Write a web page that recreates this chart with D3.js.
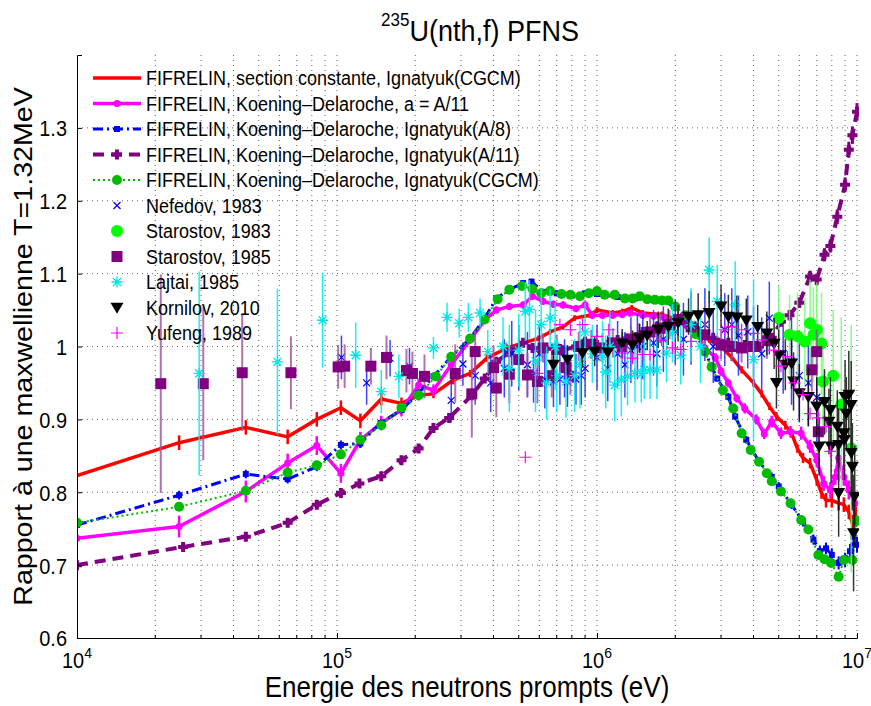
<!DOCTYPE html>
<html><head><meta charset="utf-8">
<script src="https://cdn.jsdelivr.net/npm/d3@7"></script>
<style>body{margin:0;background:#fff} text{font-family:"Liberation Sans",Arial,sans-serif;fill:#000}</style>
</head><body><svg id="c" width="871" height="706"></svg>
<script>
// ---------- DATA : [energy eV, ratio, error] ----------
const xTickValues = [1e4, 1e5, 1e6, 1e7];
const xTickExponents = ["4", "5", "6", "7"];
const yTickValues = [0.6, 0.7, 0.8, 0.9, 1.0, 1.1, 1.2, 1.3];
const yTickLabels = ["0.6", "0.7", "0.8", "0.9", "1", "1.1", "1.2", "1.3"];
const legendLabels = [
  "FIFRELIN, section constante, Ignatyuk(CGCM)",
  "FIFRELIN, Koening\u2013Delaroche, a = A/11",
  "FIFRELIN, Koening\u2013Delaroche, Ignatyuk(A/8)",
  "FIFRELIN, Koening\u2013Delaroche, Ignatyuk(A/11)",
  "FIFRELIN, Koening\u2013Delaroche, Ignatyuk(CGCM)",
  "Nefedov, 1983", "Starostov, 1983", "Starostov, 1985", "Lajtai, 1985", "Kornilov, 2010", "Yufeng, 1989"];

const redModel = [[1e4,0.823,0],[2.47e4,0.868,0.01],[4.46e4,0.889,0.01],[6.46e4,0.876,0.01],[8.36e4,0.900,0.01],[1.035e5,0.916,0.01],[1.23e5,0.898,0.01],[1.48e5,0.928,0.009],[1.77e5,0.922,0.008],[2.06e5,0.933,0.007],[2.35e5,0.935,0.006],[2.8e5,0.954,0.006],[3.25e5,0.963,0.005],[3.77e5,0.984,0.005],[4.5e5,0.998,0.005],[5.2e5,1.005,0.004],[5.95e5,1.011,0.004],[6.6e5,1.020,0.004],[7.4e5,1.027,0.004],[8.2e5,1.039,0.004],[9.4e5,1.043,0.004],[1.0e6,1.050,0.004],[1.15e6,1.046,0.004],[1.25e6,1.048,0.004],[1.36e6,1.053,0.004],[1.5e6,1.046,0.004],[1.77e6,1.044,0.004],[2.07e6,1.036,0.004],[2.3e6,1.027,0.004],[2.5e6,1.018,0.004],[2.7e6,1.009,0.004],[3.0e6,1.0,0.004],[3.3e6,0.985,0.005],[3.6e6,0.968,0.005],[4.0e6,0.950,0.005],[4.3e6,0.935,0.005],[4.6e6,0.918,0.005],[4.9e6,0.904,0.006],[5.3e6,0.892,0.006],[5.6e6,0.881,0.006],[5.9e6,0.860,0.006],[6.2e6,0.847,0.007],[6.6e6,0.840,0.007],[7.0e6,0.817,0.008],[7.3e6,0.799,0.008],[7.6e6,0.789,0.01],[8.0e6,0.789,0.01],[8.5e6,0.785,0.01],[8.9e6,0.783,0.01],[9.3e6,0.773,0.01],[9.6e6,0.757,0.012],[9.9e6,0.769,0.012]];

const magentaModel = [[1e4,0.737,0],[2.47e4,0.753,0.015],[4.46e4,0.801,0.015],[6.46e4,0.840,0.013],[8.36e4,0.864,0.013],[1.035e5,0.826,0.013],[1.23e5,0.872,0.011],[1.48e5,0.895,0.01],[1.77e5,0.913,0.009],[2.06e5,0.947,0.009],[2.35e5,0.940,0.008],[2.75e5,0.975,0.006],[3.25e5,1.009,0.005],[3.7e5,1.036,0.005],[4.1e5,1.050,0.005],[4.6e5,1.055,0.005],[5.2e5,1.057,0.005],[5.65e5,1.069,0.005],[6.2e5,1.062,0.005],[6.8e5,1.058,0.005],[7.4e5,1.057,0.005],[8.3e5,1.052,0.005],[9.0e5,1.057,0.005],[9.6e5,1.043,0.005],[1.05e6,1.043,0.005],[1.15e6,1.043,0.005],[1.25e6,1.044,0.005],[1.34e6,1.046,0.005],[1.5e6,1.043,0.005],[1.65e6,1.042,0.005],[1.8e6,1.040,0.005],[2.02e6,1.034,0.005],[2.2e6,1.029,0.005],[2.4e6,1.022,0.005],[2.6e6,0.998,0.005],[2.85e6,0.985,0.006],[3.0e6,0.966,0.006],[3.2e6,0.950,0.006],[3.45e6,0.929,0.006],[3.7e6,0.915,0.007],[4.1e6,0.900,0.007],[4.4e6,0.880,0.007],[4.7e6,0.897,0.008],[5.1e6,0.881,0.008],[5.55e6,0.883,0.008],[6.1e6,0.881,0.009],[6.6e6,0.863,0.009],[7.0e6,0.844,0.01],[7.45e6,0.812,0.01],[7.9e6,0.803,0.011],[8.25e6,0.821,0.011],[8.5e6,0.847,0.012],[8.9e6,0.821,0.012],[9.3e6,0.803,0.013],[9.8e6,0.785,0.013]];

const blueModel = [[1e4,0.755,0],[2.47e4,0.796,0.006],[4.46e4,0.825,0.006],[6.46e4,0.818,0.006],[8.36e4,0.835,0.006],[1.035e5,0.865,0.006],[1.23e5,0.867,0.006],[1.47e5,0.895,0.005],[1.77e5,0.913,0.005],[2.06e5,0.936,0.005],[2.35e5,0.959,0.005],[2.75e5,0.986,0.005],[3.25e5,1.011,0.004],[3.7e5,1.039,0.004],[4.1e5,1.066,0.004],[4.6e5,1.078,0.004],[5.2e5,1.087,0.004],[5.6e5,1.089,0.004],[6.2e5,1.075,0.004],[7.0e5,1.073,0.004],[8.0e5,1.070,0.004],[9.0e5,1.073,0.004],[1.0e6,1.072,0.004],[1.2e6,1.068,0.004],[1.4e6,1.066,0.004],[1.6e6,1.064,0.004],[1.8e6,1.062,0.004],[2.0e6,1.055,0.004],[2.2e6,1.040,0.004],[2.4e6,1.018,0.004],[2.6e6,0.993,0.004],[2.9e6,0.956,0.004],[3.2e6,0.931,0.005],[3.4e6,0.904,0.005],[3.75e6,0.872,0.005],[4.2e6,0.842,0.005],[4.7e6,0.821,0.006],[5.0e6,0.808,0.006],[5.6e6,0.783,0.006],[6.2e6,0.760,0.007],[6.8e6,0.735,0.007],[7.2e6,0.719,0.008],[7.6e6,0.723,0.008],[8.0e6,0.714,0.009],[8.5e6,0.703,0.009],[9.0e6,0.707,0.01],[9.4e6,0.719,0.01],[9.7e6,0.739,0.011],[1e7,0.728,0.011]];

const purpleModel = [[1e4,0.700,0],[2.56e4,0.725,0.006],[4.46e4,0.739,0.006],[6.46e4,0.758,0.006],[8.36e4,0.783,0.006],[1.035e5,0.799,0.006],[1.22e5,0.812,0.006],[1.48e5,0.822,0.006],[1.77e5,0.844,0.006],[2.06e5,0.860,0.006],[2.35e5,0.888,0.006],[2.7e5,0.902,0.006],[3.3e5,0.933,0.005],[3.7e5,0.956,0.005],[4.1e5,0.979,0.005],[4.6e5,0.992,0.005],[5.2e5,1.005,0.005],[5.65e5,0.998,0.005],[6.2e5,0.998,0.005],[6.8e5,0.997,0.005],[7.4e5,0.995,0.005],[8.3e5,1.000,0.005],[9.0e5,1.007,0.005],[1.0e6,1.002,0.005],[1.1e6,1.002,0.005],[1.2e6,1.009,0.005],[1.3e6,1.011,0.005],[1.5e6,1.020,0.005],[1.7e6,1.027,0.005],[1.9e6,1.032,0.005],[2.1e6,1.036,0.005],[2.4e6,1.025,0.005],[2.8e6,1.012,0.005],[3.2e6,1.005,0.005],[3.7e6,1.002,0.005],[4.2e6,1.000,0.006],[4.7e6,1.012,0.006],[5.1e6,1.034,0.006],[5.5e6,1.043,0.007],[6.0e6,1.060,0.007],[6.6e6,1.096,0.008],[7.0e6,1.092,0.008],[7.5e6,1.126,0.009],[7.9e6,1.138,0.009],[8.4e6,1.178,0.01],[9.0e6,1.222,0.01],[9.3e6,1.270,0.011],[9.6e6,1.290,0.012],[1e7,1.322,0.012]];

const greenModel = [[1e4,0.758],[2.47e4,0.780],[4.46e4,0.802],[6.46e4,0.827],[8.36e4,0.837],[1.035e5,0.852],[1.23e5,0.872],[1.48e5,0.892],[1.77e5,0.916],[2.06e5,0.933],[2.4e5,0.959],[2.75e5,0.986],[3.25e5,1.011],[3.7e5,1.037],[4.15e5,1.065],[4.6e5,1.078],[5.15e5,1.083],[5.65e5,1.079],[6.1e5,1.073],[6.6e5,1.076],[7.3e5,1.072],[7.9e5,1.071],[8.6e5,1.069],[9.3e5,1.073],[1.0e6,1.076],[1.07e6,1.071],[1.17e6,1.071],[1.28e6,1.066],[1.37e6,1.066],[1.46e6,1.069],[1.56e6,1.065],[1.67e6,1.064],[1.78e6,1.063],[1.88e6,1.063],[2.0e6,1.055],[2.19e6,1.043],[2.4e6,1.017],[2.6e6,0.993],[2.76e6,0.972],[3.05e6,0.940],[3.34e6,0.915],[3.6e6,0.881],[3.9e6,0.858],[4.2e6,0.842],[4.5e6,0.826],[4.7e6,0.815],[5.1e6,0.801],[5.55e6,0.785],[6.1e6,0.762],[6.5e6,0.749],[7.1e6,0.714],[7.5e6,0.708],[7.95e6,0.703],[8.5e6,0.684],[8.9e6,0.707],[9.6e6,0.707],[1e7,0.761]];

const nefedov = [[1.04e5,0.985,0.03],[1.3e5,0.950,0.03],[1.6e5,0.984,0.025],[1.9e5,0.973,0.025],[2.75e5,0.926,0.03],[3.05e5,0.976,0.03],[3.4e5,0.960,0.04],[3.9e5,0.950,0.04],[4.4e5,0.970,0.04],[4.7e5,0.990,0.045],[5.0e5,0.985,0.045],[5.4e5,0.975,0.045],[5.7e5,0.963,0.04],[6.0e5,0.990,0.04],[6.3e5,0.955,0.04],[6.8e5,0.952,0.035],[7.2e5,0.955,0.035],[7.5e5,0.970,0.04],[7.7e5,0.952,0.035],[8.3e5,0.955,0.035],[8.7e5,0.960,0.04],[9.0e5,0.970,0.04],[1.0e6,0.985,0.045],[1.1e6,0.970,0.045],[1.2e6,0.990,0.045],[1.28e6,0.975,0.045],[1.35e6,0.995,0.045],[1.43e6,1.000,0.045],[1.5e6,1.000,0.045],[1.65e6,1.005,0.045],[1.7e6,0.990,0.045],[1.8e6,1.010,0.045],[2.0e6,1.020,0.045],[2.15e6,1.010,0.05],[2.3e6,1.025,0.05],[2.6e6,1.030,0.05],[2.8e6,1.000,0.05],[3.1e6,1.023,0.05],[3.3e6,1.030,0.05],[3.5e6,1.015,0.055],[3.8e6,1.020,0.05],[4.0e6,1.000,0.055],[4.3e6,0.990,0.05],[4.6e6,1.039,0.05],[5.2e6,0.990,0.055],[5.6e6,0.980,0.06],[6.0e6,0.960,0.06],[6.5e6,0.950,0.06],[7.0e6,0.930,0.06]];

const starostov83 = [[5.0e6,1.039,0.045],[5.5e6,1.016,0.055],[5.9e6,1.014,0.06],[6.3e6,1.007,0.06],[6.6e6,1.032,0.06],[6.8e6,1.016,0.065],[7.0e6,1.023,0.065],[7.3e6,1.004,0.07],[7.4e6,0.952,0.075],[8.1e6,0.960,0.09],[8.7e6,0.920,0.12],[9.5e6,0.860,0.17]];

const starostov85 = [[2.1e4,0.949,0.15],[3.06e4,0.949,0.105],[4.32e4,0.964,0.08],[6.65e4,0.964,0.05],[1.01e5,0.972,0.03],[1.07e5,0.973,0.03],[1.35e5,0.973,0.025],[1.55e5,0.985,0.03],[1.85e5,0.967,0.03],[1.95e5,0.963,0.03],[2.17e5,0.959,0.03],[2.85e5,0.963,0.04],[3.3e5,0.935,0.06],[3.4e5,0.993,0.03],[4.0e5,0.971,0.03],[4.1e5,0.943,0.04],[4.6e5,0.962,0.04],[5.0e5,0.982,0.03],[5.4e5,0.961,0.03],[5.9e5,0.952,0.03],[6.2e5,0.998,0.02],[6.7e5,0.960,0.03],[7.0e5,0.996,0.02],[7.6e5,0.971,0.025],[7.9e5,0.959,0.025],[8.5e5,1.000,0.02],[9.5e5,1.003,0.02],[1.05e6,0.998,0.02],[1.15e6,1.005,0.02],[1.25e6,1.000,0.02],[1.35e6,1.010,0.02],[1.45e6,1.012,0.02],[1.6e6,1.020,0.02],[1.75e6,1.025,0.02],[1.9e6,1.030,0.02],[2.05e6,1.037,0.02],[2.3e6,1.027,0.02],[2.6e6,1.016,0.02],[3.0e6,1.002,0.02],[3.3e6,1.000,0.02],[3.6e6,0.998,0.02],[4.0e6,1.000,0.02],[4.5e6,1.008,0.025],[6.7e6,0.968,0.03],[7.0e6,0.993,0.03],[7.1e6,0.883,0.04]];

const lajtai = [[2.95e4,0.963,0.14],[5.9e4,0.979,0.10],[8.8e4,1.036,0.065],[1.18e5,0.988,0.045],[1.48e5,0.938,0.03],[1.73e5,0.959,0.03],[2.35e5,0.998,0.015],[2.65e5,1.040,0.02],[2.95e5,1.032,0.02],[3.2e5,1.040,0.02],[3.55e5,1.046,0.02],[3.8e5,0.993,0.03],[4.35e5,1.000,0.04],[4.6e5,0.970,0.06],[5.0e5,0.995,0.05],[5.3e5,1.048,0.04],[5.5e5,1.051,0.04],[5.8e5,0.980,0.07],[6.1e5,1.030,0.05],[6.4e5,0.950,0.05],[6.6e5,1.039,0.04],[6.9e5,1.000,0.06],[7.0e5,0.960,0.05],[7.6e5,0.952,0.05],[8.2e5,0.960,0.05],[8.6e5,0.975,0.06],[9.0e5,1.020,0.04],[9.6e5,0.990,0.04],[1.05e6,0.985,0.05],[1.08e6,0.965,0.05],[1.12e6,1.000,0.05],[1.17e6,0.947,0.05],[1.24e6,0.954,0.05],[1.31e6,0.959,0.04],[1.4e6,0.963,0.04],[1.48e6,0.963,0.04],[1.52e6,0.968,0.04],[1.6e6,0.968,0.04],[1.7e6,0.968,0.04],[1.85e6,0.991,0.04],[1.95e6,1.018,0.04],[2.1e6,0.988,0.04],[2.3e6,1.030,0.05],[2.5e6,1.000,0.05],[2.7e6,1.105,0.045],[2.9e6,1.062,0.05],[3.4e6,1.057,0.06],[4.0e6,0.982,0.11]];

const kornilov = [[6.8e5,0.975,0.02],[7.7e5,0.982,0.02],[8.8e5,0.991,0.02],[9.8e5,0.993,0.02],[1.1e6,0.992,0.02],[1.25e6,1.004,0.02],[1.37e6,1.002,0.02],[1.46e6,1.011,0.02],[1.56e6,1.015,0.02],[1.72e6,1.023,0.025],[1.88e6,1.027,0.025],[2.05e6,1.032,0.025],[2.25e6,1.041,0.025],[2.45e6,1.043,0.03],[2.7e6,1.046,0.03],[3.0e6,1.055,0.03],[3.2e6,1.041,0.03],[3.45e6,1.040,0.03],[3.75e6,1.036,0.03],[4.15e6,1.027,0.03],[4.5e6,1.018,0.03],[4.8e6,1.004,0.035],[5.0e6,0.988,0.035],[4.9e6,0.950,0.035],[5.3e6,0.975,0.035],[5.6e6,0.977,0.035],[5.7e6,0.952,0.04],[6.0e6,0.936,0.04],[6.5e6,0.931,0.04],[7.0e6,0.918,0.04],[7.15e6,0.863,0.04],[7.5e6,0.924,0.045],[7.9e6,0.913,0.045],[7.8e6,0.897,0.045],[7.95e6,0.863,0.05],[8.4e6,0.890,0.05],[8.5e6,0.865,0.05],[8.9e6,0.881,0.05],[9.0e6,0.931,0.05],[9.1e6,0.908,0.05],[8.95e6,0.872,0.055],[9.5e6,0.854,0.06],[9.6e6,0.835,0.06],[9.3e6,0.934,0.06],[9.5e6,0.920,0.06],[8.5e6,0.799,0.06],[9.8e6,0.794,0.07],[9.7e6,0.744,0.08]];

const yufeng = [[5.3e5,0.848],[5.9e5,0.963],[7.2e5,1.030],[7.9e5,1.023],[8.8e5,1.030],[1.0e6,1.014],[1.11e6,1.023],[1.25e6,0.991],[1.37e6,0.984],[1.5e6,0.989],[1.6e6,0.989],[1.77e6,1.009],[1.95e6,0.998],[2.1e6,0.996],[2.3e6,1.007],[3.1e6,1.023],[3.3e6,1.027],[3.6e6,1.023],[4.0e6,1.018],[4.3e6,1.009],[4.8e6,0.995],[5.1e6,0.973],[5.4e6,0.986],[5.75e6,0.950],[6.2e6,0.934],[6.6e6,0.908],[7.1e6,0.902],[7.6e6,0.890],[7.9e6,0.856]];

// ---------- STYLES ----------
const series = [
  {data: redModel, color:"#ff0000", lw:3.5, dash:null, bar:{c:"#ff0000",w:2.5}, mk:null},
  {data: magentaModel, color:"#ff00ff", lw:3.5, dash:null, bar:{c:"#ff00ff",w:2.5}, mk:{t:"o",s:3.5,fill:"#ff00ff"}},
  {data: blueModel, color:"#0000ff", lw:3, dash:"10,4,2,4", bar:{c:"#0000ff",w:2}, mk:{t:"s",s:3,fill:"#0000ff"}},
  {data: purpleModel, color:"#800080", lw:4, dash:"11,7", bar:{c:"#800080",w:3}, mk:{t:"+",s:5,stroke:"#800080",sw:4}},
  {data: greenModel, color:"#00bb00", lw:2, dash:"2,3", bar:null, mk:{t:"o",s:5,fill:"#00bb00"}},
  {data: nefedov, color:"#0000ff", bar:{c:"#2020ff",w:1.5,o:0.85}, mk:{t:"x",s:3.5,stroke:"#0000ff",sw:1.2}},
  {data: starostov83, color:"#00ff00", bar:{c:"#66ff66",w:1.5,o:0.8}, mk:{t:"o",s:6,fill:"#00ff00"}},
  {data: starostov85, color:"#800080", bar:{c:"#a050a0",w:2,o:0.8}, mk:{t:"s",s:5.5,fill:"#800080"}},
  {data: lajtai, color:"#00ffff", bar:{c:"#00f0f0",w:1.5,o:0.9}, mk:{t:"*",s:5.5,stroke:"#00e5e5",sw:1.3}},
  {data: kornilov, color:"#000", bar:{c:"#111",w:1.5,o:0.85}, mk:{t:"v",s:6.5,fill:"#000"}},
  {data: yufeng, color:"#ff00ff", bar:null, mk:{t:"+",s:6,stroke:"#ff00ff",sw:1.2}}
];

// ---------- CHART ----------
const svg = d3.select("#c");
const L=77, R=857, T=55, B=638, SY=1.1;
const x = d3.scaleLog().domain([1e4,1e7]).range([L,R]);
const y = d3.scaleLinear().domain([0.6,1.4]).range([B,T]);

svg.append("defs").append("clipPath").attr("id","clip")
  .append("rect").attr("x",L).attr("y",T-2).attr("width",R-L+2).attr("height",B-T+2);

// grid
const grid = svg.append("g").attr("stroke","#000").attr("stroke-width",0.8).attr("stroke-dasharray","1,4").attr("opacity",0.75);
x.ticks().filter(v=>v>1e4).forEach(v=>{
  grid.append("line").attr("x1",x(v)).attr("x2",x(v)).attr("y1",T).attr("y2",B);
});
yTickValues.filter(v=>v>0.6).forEach(v=>{
  grid.append("line").attr("x1",L).attr("x2",R).attr("y1",y(v)).attr("y2",y(v));
});

function markerPath(t,s){
  if(t==="x") return `M${-s},${-s}L${s},${s}M${-s},${s}L${s},${-s}`;
  if(t==="+") return `M${-s},0H${s}M0,${-s}V${s}`;
  if(t==="*"){const d=s*0.72;return `M${-s},0H${s}M0,${-s}V${s}M${-d},${-d}L${d},${d}M${-d},${d}L${d},${-d}`;}
  if(t==="v") return `M${-s},${-s*0.75}L${s},${-s*0.75}L0,${s*0.95}Z`;
  if(t==="s") return `M${-s},${-s}H${s}V${s}H${-s}Z`;
  return d3.symbol(d3.symbolCircle, Math.PI*s*s)();
}
function drawMarker(g, mk, px, py){
  const p = g.append("path").attr("d", markerPath(mk.t, mk.s)).attr("transform",`translate(${px},${py})`);
  if(mk.fill) p.attr("fill",mk.fill).attr("stroke","none");
  else p.attr("fill","none").attr("stroke",mk.stroke).attr("stroke-width",mk.sw);
}

const plot = svg.append("g").attr("clip-path","url(#clip)");
series.forEach(s=>{
  const g = plot.append("g");
  if(s.bar){
    const bg = g.append("g").attr("stroke",s.bar.c).attr("stroke-width",s.bar.w).attr("opacity",s.bar.o||1);
    s.data.filter(d=>d[2]>0).forEach(d=>{
      bg.append("line").attr("x1",x(d[0])).attr("x2",x(d[0])).attr("y1",y(d[1]-d[2])).attr("y2",y(d[1]+d[2]));
    });
  }
  if(s.lw){
    g.append("path").datum(s.data).attr("fill","none").attr("stroke",s.color).attr("stroke-width",s.lw)
      .attr("stroke-dasharray",s.dash).attr("stroke-linejoin","round")
      .attr("d", d3.line().x(d=>x(d[0])).y(d=>y(d[1])));
  }
  if(s.mk){
    const mg = g.append("g");
    s.data.forEach(d=>drawMarker(mg, s.mk, x(d[0]), y(d[1])));
  }
});

// axes
const ay = svg.append("g").attr("transform",`translate(${L},0)`)
  .call(d3.axisLeft(y).tickValues(yTickValues).tickSize(-5).tickPadding(10).tickFormat((d,i)=>yTickLabels[i]));
ay.selectAll("text").attr("font-size",20).attr("font-family","Liberation Sans, Arial, sans-serif")
  .attr("transform",`scale(1,${SY})`).attr("dy","0.36em");
ay.select(".domain").attr("stroke","#000");

const ax = svg.append("g").attr("transform",`translate(0,${B})`)
  .call(d3.axisBottom(x).tickValues(xTickValues).tickSize(-5).tickFormat(""));
ax.select(".domain").attr("stroke","#000");
// minor x ticks
x.ticks().filter(v=>!xTickValues.includes(v)).forEach(v=>{
  ax.append("line").attr("x1",x(v)).attr("x2",x(v)).attr("y1",0).attr("y2",-3).attr("stroke","#000");
});
xTickValues.forEach((v,i)=>{
  const t = svg.append("text").attr("text-anchor","middle").attr("font-size",20)
    .attr("transform",`translate(${x(v)},668) scale(1,${SY})`);
  t.append("tspan").text("10");
  t.append("tspan").attr("font-size",14).attr("dy",-9).text(xTickExponents[i]);
});

// labels & title
svg.append("text").attr("text-anchor","middle").attr("font-size",26)
  .attr("transform",`translate(${(L+R)/2},697) scale(1,${SY})`).text("Energie des neutrons prompts (eV)");
svg.append("text").attr("text-anchor","middle").attr("font-size",26)
  .attr("transform",`translate(32,${(T+B)/2+0}) rotate(-90) scale(${SY},1)`).text("Rapport \u00e0 une maxwellienne T=1.32MeV");
const title = svg.append("text").attr("text-anchor","middle").attr("font-size",27)
  .attr("transform",`translate(480,41) scale(1,${SY})`);
title.append("tspan").attr("font-size",17).attr("dy",-14).text("235");
title.append("tspan").attr("dy",14).text("U(nth,f) PFNS");

// legend
const lg = svg.append("g");
series.forEach((s,i)=>{
  const cy = 78 + i*25.5;
  if(s.lw){
    lg.append("line").attr("x1",93).attr("x2",141).attr("y1",cy).attr("y2",cy)
      .attr("stroke",s.color).attr("stroke-width",s.lw).attr("stroke-dasharray",s.dash);
  }
  if(s.mk) drawMarker(lg, s.mk, 117, cy);
  lg.append("text").attr("font-size",18).attr("transform",`translate(146,${cy+7}) scale(1,${SY})`).text(legendLabels[i]);
});
</script></body></html>
